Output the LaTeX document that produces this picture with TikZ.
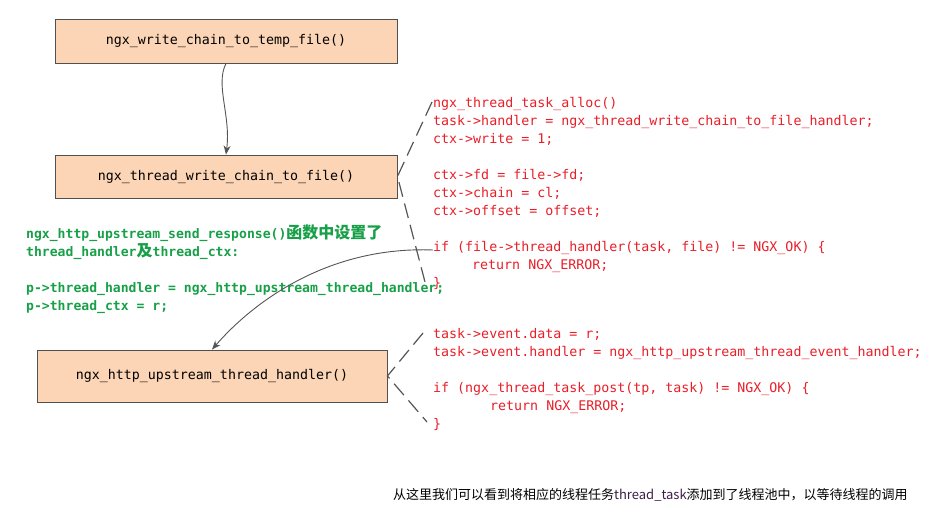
\documentclass[tikz,border=0pt]{standalone}
\usepackage{fontspec}
\setmonofont{DejaVu Sans Mono}
\newfontfamily\cjk{Noto Sans CJK SC}
\usetikzlibrary{arrows.meta}
\definecolor{peach}{RGB}{251,213,181}
\definecolor{boxline}{RGB}{80,80,80}
\definecolor{codered}{RGB}{232,30,40}
\definecolor{codegreen}{RGB}{24,160,72}
\definecolor{conn}{RGB}{85,85,85}
\definecolor{purp}{RGB}{60,30,70}
\tikzset{
  fbox/.style={draw=boxline, fill=peach, line width=0.9pt, inner sep=0pt,
    font=\ttfamily\fontsize{13.3}{16}\selectfont},
  redc/.style={anchor=base west, inner sep=0pt, text=codered,
    font=\ttfamily\fontsize{13.3}{16}\selectfont},
  greenc/.style={anchor=base west, inner sep=0pt, text=codegreen,
    font=\ttfamily\bfseries\fontsize{13.1}{16}\selectfont},
  dashc/.style={draw=conn, line width=1.2pt, dash pattern=on 15pt off 7pt},
  arr/.style={draw=conn, line width=0.9pt, -{Stealth[length=9pt,width=7pt]}},
}
\begin{document}
\begin{tikzpicture}[x=1pt,y=-1pt]
\useasboundingbox (0,0) rectangle (942,519);
% boxes
\node[fbox, minimum width=342pt, minimum height=44pt] (b1) at (226,41) {ngx\_write\_chain\_to\_temp\_file()};
\node[fbox, minimum width=342pt, minimum height=43pt] (b2) at (226,176.5) {ngx\_thread\_write\_chain\_to\_file()};
\node[fbox, minimum width=350pt, minimum height=52pt] (b3) at (212,376) {ngx\_http\_upstream\_thread\_handler()};
% red code block 1
\node[redc] (r1) at (433,107) {ngx\_thread\_task\_alloc()};
\node[redc] (r2) at (433,125) {task->handler = ngx\_thread\_write\_chain\_to\_file\_handler;};
\node[redc] (r3) at (433,143) {ctx->write = 1;};
\node[redc] (r4) at (433,179) {ctx->fd = file->fd;};
\node[redc] (r5) at (433,197) {ctx->chain = cl;};
\node[redc] (r6) at (433,215) {ctx->offset = offset;};
\node[redc] (r7) at (433,251) {if (file->thread\_handler(task, file) != NGX\_OK) \{};
\node[redc] (r8) at (472,269) {return NGX\_ERROR;};
\node[redc] (r9) at (433,287) {\}};
% red code block 2
\node[redc] (s1) at (433,338) {task->event.data = r;};
\node[redc] (s2) at (433,356) {task->event.handler = ngx\_http\_upstream\_thread\_event\_handler;};
\node[redc] (s3) at (433,392) {if (ngx\_thread\_task\_post(tp, task) != NGX\_OK) \{};
\node[redc] (s4) at (490,410) {return NGX\_ERROR;};
\node[redc] (s5) at (433,428) {\}};
% green text
\node[greenc] (g1) at (26,238) {ngx\_http\_upstream\_send\_response(){\cjk\fontsize{16}{16}\selectfont 函数中设置了}};
\node[greenc] (g2) at (26,256) {thread\_handler{\cjk\fontsize{16}{16}\selectfont 及}thread\_ctx:};
\node[greenc] (g3) at (26,292) {p->thread\_handler = ngx\_http\_upstream\_thread\_handler;};
\node[greenc] (g4) at (26,310) {p->thread\_ctx = r;};
% bottom note
\node[anchor=base west, inner sep=0pt, font=\cjk\fontsize{13}{14}\selectfont] (note) at (393,499)
  {从这里我们可以看到将相应的线程任务\textcolor{purp}{thread\_task}添加到了线程池中，以等待线程的调用};
% coordinates for dashed ends
\coordinate (d1a) at (432,102);
\coordinate (d1b) at (425,282);
\coordinate (d2a) at (423,333);
\coordinate (d2b) at (427,422);
\coordinate (cstart) at (433,250);
% connectors
\draw[arr] (b1.south) .. controls (215,85) and (231,115) .. (b2.north);
\draw[dashc] (d1a) -- (b2.east) -- (d1b);
\draw[dashc] (d2a) -- (b3.east) -- (d2b);
\draw[arr] (cstart) .. controls (330,246) and (255,300) .. (b3.north);
\end{tikzpicture}
\end{document}
